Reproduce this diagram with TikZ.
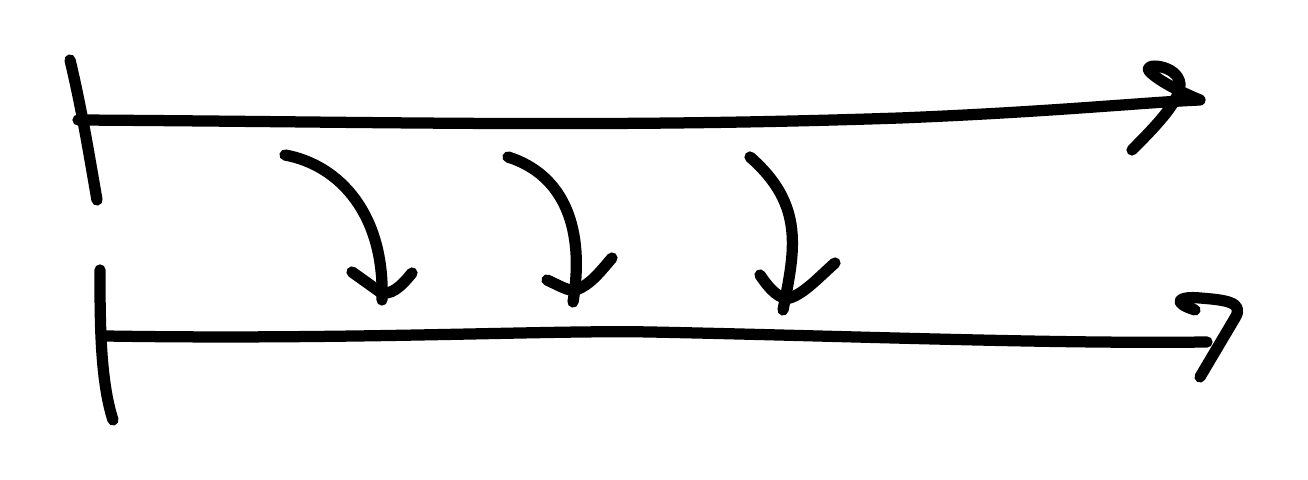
\documentclass[tikz,border=0pt]{standalone}
\begin{document}
\begin{tikzpicture}[x=0.01cm,y=-0.01cm,
  ink/.style={line width=3.2pt,line cap=round,line join=round,draw=black}]
\useasboundingbox (0,0) rectangle (1308,480);
% top timeline
\draw[ink] (70,60) .. controls (82,110) and (90,160) .. (97,200);
\draw[ink] (78,120) .. controls (400,122) and (600,128) .. (900,118) .. controls (1050,112) and (1150,102) .. (1200,100);
\draw[ink] (1132,150) .. controls (1160,122) and (1180,100) .. (1180,84) .. controls (1178,64) and (1140,62) .. (1150,72) .. controls (1160,82) and (1185,94) .. (1200,100);
% bottom timeline
\draw[ink] (100,270) .. controls (100,320) and (100,380) .. (113,420);
\draw[ink] (105,336) .. controls (350,340) and (550,330) .. (650,332) .. controls (850,336) and (1050,344) .. (1207,342);
\draw[ink] (1195,310) .. controls (1170,302) and (1180,296) .. (1200,298) .. controls (1225,300) and (1245,302) .. (1235,318) -- (1200,377);
% curved arrows
\draw[ink] (285,155) .. controls (340,165) and (385,215) .. (382,300);
\draw[ink] (352,272) -- (380,292) .. controls (390,296) and (400,288) .. (412,273);
\draw[ink] (508,157) .. controls (565,175) and (585,230) .. (573,302);
\draw[ink] (547,280) .. controls (560,286) and (570,292) .. (576,290) .. controls (590,285) and (600,272) .. (612,258);
\draw[ink] (750,157) .. controls (805,205) and (795,250) .. (783,310);
\draw[ink] (760,275) .. controls (770,290) and (780,300) .. (790,298) .. controls (805,293) and (820,276) .. (835,263);
\end{tikzpicture}
\end{document}
